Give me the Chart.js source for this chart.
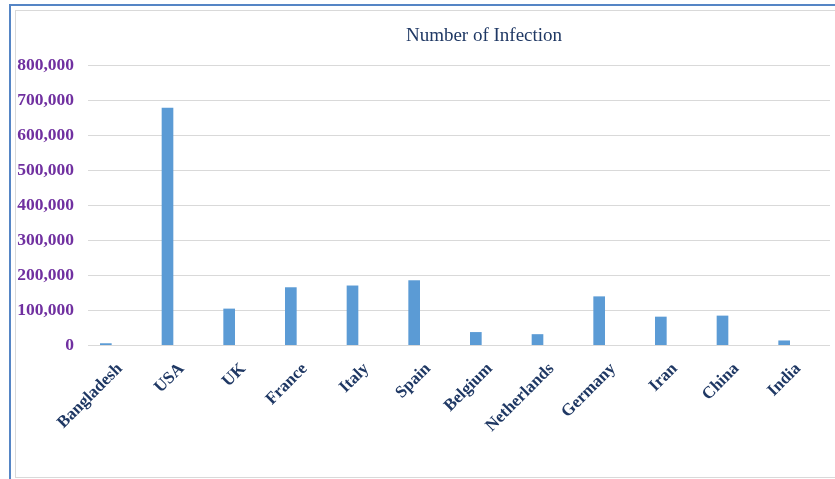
<!DOCTYPE html>
<html>
<head>
<meta charset="utf-8">
<script src="https://cdn.jsdelivr.net/npm/chart.js@4"></script>
<style>
html,body{margin:0;padding:0;background:#fff;width:835px;height:479px;overflow:hidden;}
#outer{position:absolute;left:9px;top:4px;width:840px;height:480px;border-left:2px solid #5585c5;border-top:2px solid #5585c5;}
#inner{position:absolute;left:15px;top:10px;width:840px;height:466px;border-left:1px solid #d9d9d9;border-top:1px solid #d9d9d9;border-bottom:1px solid #d9d9d9;}
#c{position:absolute;left:0;top:0;}
</style>
</head>
<body>
<div id="outer"></div>
<div id="inner"></div>
<canvas id="c" width="835" height="479"></canvas>
<script>
const chartTitle = "Number of Infection";
const countries = ["Bangladesh","USA","UK","France","Italy","Spain","Belgium","Netherlands","Germany","Iran","China","India"];
const infections = [4000,677000,103000,164000,169000,184000,36000,30000,138000,80000,83000,12000];
const yTicks = [0,100000,200000,300000,400000,500000,600000,700000,800000];

const gridPlugin = {
  id: 'xlGrid',
  beforeDatasetsDraw(chart){
    const y = chart.scales.y, ctx = chart.ctx;
    ctx.save();
    ctx.strokeStyle = '#d9d9d9';
    ctx.lineWidth = 1;
    yTicks.forEach(v=>{
      const py = Math.round(y.getPixelForValue(v)) + 0.5;
      ctx.beginPath(); ctx.moveTo(88, py); ctx.lineTo(830, py); ctx.stroke();
    });
    ctx.restore();
  },
  afterDraw(chart){
    const ctx = chart.ctx;
    ctx.save();
    ctx.fillStyle = '#1f3864';
    ctx.font = '19px "Liberation Serif", "Times New Roman", serif';
    ctx.textAlign = 'center';
    ctx.textBaseline = 'middle';
    ctx.fillText(chartTitle, 484, 36);
    ctx.restore();
  }
};

new Chart(document.getElementById('c'), {
  type: 'bar',
  data: {
    labels: countries,
    datasets: [{
      label: chartTitle,
      data: infections,
      backgroundColor: '#5b9bd5',
      borderWidth: 0,
      barThickness: 11
    }]
  },
  options: {
    responsive: false,
    animation: false,
    layout: { padding: { top: 65, right: 20, bottom: 0, left: 0 } },
    plugins: { legend: { display: false }, title: { display: false }, tooltip: { enabled: false } },
    scales: {
      x: {
        grid: { display: false, drawTicks: false },
        border: { display: false },
        afterFit(s){ s.height = 134; },
        ticks: {
          maxRotation: 45, minRotation: 45, autoSkip: false,
          padding: 14, labelOffset: 14,
          color: '#1f3864',
          font: { family: '"Liberation Serif", "Times New Roman", serif', size: 17, weight: 'bold' }
        }
      },
      y: {
        min: 0, max: 800000,
        grid: { display: false, drawTicks: false },
        border: { display: false },
        afterFit(s){ s.width = 75; },
        afterBuildTicks(s){ s.ticks = yTicks.map(v=>({value:v})); },
        ticks: {
          padding: 1,
          color: '#7030a0',
          font: { family: '"Liberation Serif", "Times New Roman", serif', size: 17.5, weight: 'bold' },
          callback: v => v.toLocaleString('en-US')
        }
      }
    }
  },
  plugins: [gridPlugin]
});
</script>
</body>
</html>
